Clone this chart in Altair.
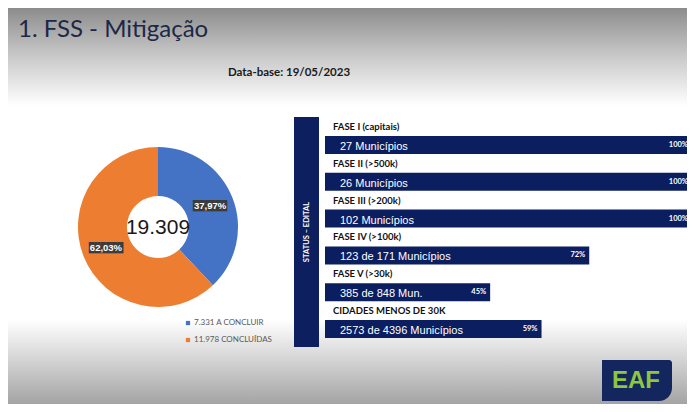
import altair as alt
import pandas as pd

W, H = 679, 396

titulo = "1. FSS - Mitigação"
data_base = "Data-base: 19/05/2023"
total_label = "19.309"
status_band = "STATUS – EDITAL"
logo = "EAF"

status_labels = ["7.331 A CONCLUIR", "11.978  CONCLUÍDAS"]
status_values = [7331, 11978]
status_pct = ["37,97%", "62,03%"]
status_colors = ["#4472C4", "#ED7D31"]
status_order = [0, 1]

fases = ["FASE I (capitais)", "FASE II (>500k)", "FASE III (>200k)",
         "FASE IV (>100k)", "FASE V (>30k)", "CIDADES MENOS DE 30K"]
fase_textos = ["27 Municípios", "26 Municípios", "102 Municípios",
               "123 de 171 Municípios", "385 de 848 Mun.", "2573 de 4396 Municípios"]
fase_pcts = [1.0, 1.0, 1.0, 0.72, 0.45, 0.59]
fase_pct_labels = ["100%", "100%", "100%", "72%", "45%", "59%"]

NAVY = "#0b1e60"
one = pd.DataFrame({"k": [0]})

donut_df = pd.DataFrame({"status": status_labels, "valor": status_values,
                         "pct": status_pct, "ordem": status_order})
bars_df = pd.DataFrame({"fase": fases, "texto": fase_textos,
                        "pct": fase_pcts, "rotulo": fase_pct_labels})

# backgrounds
top_grad = alt.Chart(one).mark_rect(fill=alt.Gradient(
    gradient="linear", x1=0, x2=0, y1=0, y2=1,
    stops=[alt.GradientStop(offset=0, color="#8c8c8c"),
           alt.GradientStop(offset=0.45, color="#c4c4c4"),
           alt.GradientStop(offset=1, color="#ffffff")])).encode(
    x=alt.value(0), x2=alt.value(W), y=alt.value(0), y2=alt.value(98))
bot_grad = alt.Chart(one).mark_rect(fill=alt.Gradient(
    gradient="linear", x1=0, x2=0, y1=0, y2=1,
    stops=[alt.GradientStop(offset=0, color="#ffffff"),
           alt.GradientStop(offset=1, color="#a4a4a4")])).encode(
    x=alt.value(0), x2=alt.value(W), y=alt.value(312), y2=alt.value(H))

title = alt.Chart(one).mark_text(align="left", baseline="alphabetic", font="Lato",
                                 fontSize=24, color="#1b2846").encode(
    x=alt.value(10), y=alt.value(29), text=alt.value(titulo))
subtitle = alt.Chart(one).mark_text(align="center", baseline="middle", font="Lato",
                                    fontSize=11.5, fontWeight="bold", color="#1a1a1a").encode(
    x=alt.value(281), y=alt.value(65), text=alt.value(data_base))

# donut
CX, CY = 150, 219
theta = alt.Theta("valor:Q", stack=True)
order = alt.Order("ordem:Q")
arc = alt.Chart(donut_df).mark_arc(radius=80, radius2=31).encode(
    theta=theta, order=order,
    color=alt.Color("status:N", scale=alt.Scale(domain=status_labels, range=status_colors),
                    legend=alt.Legend(orient="none", legendX=176, legendY=311, title=None,
                                      symbolType="square", symbolSize=18, symbolStrokeWidth=0,
                                      labelFontSize=8, labelColor="#595959", labelFont="Lato",
                                      rowPadding=9, labelOffset=2, padding=0)),
    x=alt.value(CX), y=alt.value(CY))
boxes = alt.Chart(donut_df).mark_text(radius=56, font="DejaVu Sans Mono", fontSize=9.5,
                                      baseline="middle", color="#3b3b3b").encode(
    theta=theta, order=order, text=alt.value("██████"), x=alt.value(CX), y=alt.value(CY))
labels = alt.Chart(donut_df).mark_text(radius=56, font="Liberation Sans", fontSize=9.5,
                                       fontWeight="bold", baseline="middle", color="white").encode(
    theta=theta, order=order, text="pct:N", x=alt.value(CX), y=alt.value(CY))
center = alt.Chart(one).mark_text(font="Liberation Sans", fontSize=21, baseline="middle",
                                  color="#1a1a1a").encode(
    x=alt.value(CX), y=alt.value(CY + 1), text=alt.value(total_label))

# status band
band = alt.Chart(one).mark_rect(color="#0d1f5e").encode(
    x=alt.value(286), x2=alt.value(311), y=alt.value(109), y2=alt.value(339))
band_text = alt.Chart(one).mark_text(angle=270, font="Lato", fontSize=7.5, fontWeight="bold",
                                     color="white", baseline="middle").encode(
    x=alt.value(298.5), y=alt.value(224), text=alt.value(status_band))

# bars
yenc = alt.Y("fase:N", sort=fases, axis=None,
             scale=alt.Scale(domain=fases, range=[118.6, 339.4], paddingInner=0, paddingOuter=0))
xenc = alt.X("pct:Q", axis=None, scale=alt.Scale(domain=[0, 1], range=[317, 684], nice=False))
bars = alt.Chart(bars_df).mark_bar(size=18, color=NAVY).encode(x=xenc, y=yenc)
fase_lbl = alt.Chart(bars_df).mark_text(align="left", baseline="middle", dy=-18, font="Lato",
                                        fontSize=9.5, fontWeight="bold", color="#111111").encode(
    x=alt.value(325), y=yenc, text="fase:N")
bar_txt = alt.Chart(bars_df).mark_text(align="left", baseline="middle", dy=2, font="Liberation Sans",
                                       fontSize=11, color="white").encode(
    x=alt.value(332), y=yenc, text="texto:N")
pct_txt = alt.Chart(bars_df).mark_text(align="right", baseline="middle", dx=-4, font="Lato",
                                       fontSize=7.5, fontWeight="bold", color="white").encode(
    x=xenc, y=yenc, text="rotulo:N")

# logo
logo_rect = alt.Chart(one).mark_rect(color="#13265e", cornerRadiusBottomRight=13,
                                     cornerRadiusTopRight=3).encode(
    x=alt.value(594), x2=alt.value(664), y=alt.value(352), y2=alt.value(393))
logo_txt = alt.Chart(one).mark_text(font="Liberation Sans", fontSize=24, fontWeight="bold",
                                    color="#8dc63f", baseline="middle").encode(
    x=alt.value(628), y=alt.value(373), text=alt.value(logo))

chart = alt.layer(top_grad, bot_grad, title, subtitle, arc, boxes, labels, center,
                  band, band_text, bars, fase_lbl, bar_txt, pct_txt, logo_rect, logo_txt
                  ).properties(width=W, height=H, padding=0, autosize="none",
                               background="white").configure_view(stroke=None)

chart.save("out.html", embed_options={"renderer": "svg", "actions": False})
